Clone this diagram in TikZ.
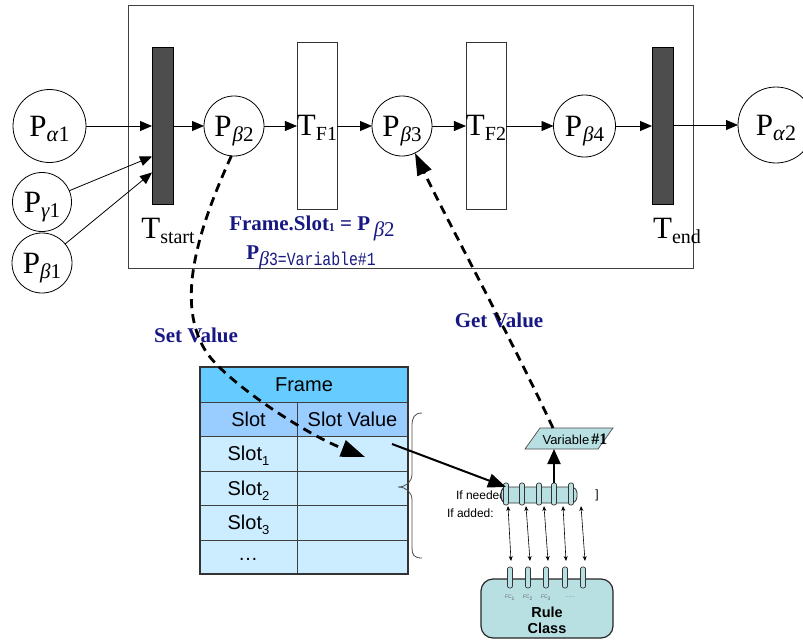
\documentclass[tikz,border=0pt]{standalone}
\usepackage{graphicx}
\usepackage{fontspec}
\setmainfont{Liberation Serif}
\setsansfont{Liberation Sans}
\setmonofont{Liberation Mono}
\usetikzlibrary{arrows.meta,calc}
\definecolor{navyt}{RGB}{24,24,130}
\definecolor{bardark}{RGB}{77,77,77}
\definecolor{framehead}{RGB}{102,204,255}
\definecolor{slothead}{RGB}{153,204,255}
\definecolor{slotrow}{RGB}{204,236,255}
\definecolor{tealc}{RGB}{184,224,226}
\newcommand\psub[2][5pt]{\raisebox{-#1}[0pt][0pt]{#2}}
\begin{document}
\begin{tikzpicture}[x=1pt,y=-1pt,
 every node/.style={inner sep=0pt,outer sep=0pt},
 place/.style={circle,draw=black,line width=0.8pt,fill=white,font=\fontsize{31}{31}\selectfont},
 tbar/.style={draw=black,line width=0.6pt,fill=bardark,minimum width=21pt,minimum height=157pt},
 tbox/.style={draw=black!80,line width=0.8pt,fill=white,minimum width=40pt,minimum height=167pt,font=\fontsize{31}{31}\selectfont},
 tlabel/.style={font=\fontsize{31}{31}\selectfont},
 arr/.style={line width=0.8pt,-{Triangle[length=12pt,width=10pt]}},
 thickarr/.style={line width=2pt,-{Triangle[length=18pt,width=14pt]}},
 dasharr/.style={line width=2.8pt,dash pattern=on 9pt off 6pt,-{Triangle[length=24pt,width=17pt]}},
 dasharrb/.style={line width=2.8pt,dash pattern=on 9pt off 6pt,-{Triangle[length=22pt,width=15pt]}},
 note/.style={text=navyt,font=\bfseries\fontsize{21}{21}\selectfont},
 cell/.style={draw=black!75,line width=0.8pt,font=\sffamily\fontsize{20}{20}\selectfont},
 tpin/.style={draw=black!80,line width=0.7pt,fill=tealc,rounded corners=2pt,minimum width=5pt,minimum height=22pt},
 darr/.style={line width=0.6pt,{Stealth[length=5pt,width=4pt]}-{Stealth[length=5pt,width=4pt]}},
 small/.style={font=\sffamily\fontsize{12}{12}\selectfont}
]
\fill[white] (0,0) rectangle (803,640);
\useasboundingbox (0,0) rectangle (803,640);
\clip (0,0) rectangle (803,640);

% outer box
\draw[draw=black!75,line width=0.8pt] (128,5) rectangle (693,268);

% places and transitions
\node[place,minimum size=73pt] (pa1) at (49.5,126) {P\psub{\fontsize{22}{22}\selectfont\textit{α}1}};
\node[place,minimum size=59pt] (pg1) at (42,202) {P\psub{\fontsize{21}{21}\selectfont\textit{γ}1}};
\node[place,minimum size=60pt] (pb1) at (42,263) {P\psub{\fontsize{21}{21}\selectfont\textit{β}1}};
\node[tbar] (ts) at (162.5,125.5) {};
\node[place,minimum size=60pt] (pb2) at (234,126) {P\kern1pt\psub{\fontsize{21}{21}\selectfont\textit{β}2}};
\node[tbox] (tf1) at (317,125.5) {T\psub{\fontsize{20}{20}\selectfont F1}};
\node[place,minimum size=60pt] (pb3) at (402,126) {P\kern1pt\psub{\fontsize{21}{21}\selectfont\textit{β}3}};
\node[tbox] (tf2) at (486,125.5) {T\psub{\fontsize{20}{20}\selectfont F2}};
\node[place,minimum size=62pt] (pb4) at (584.5,126) {P\kern1pt\psub{\fontsize{21}{21}\selectfont\textit{β}4}};
\node[tbar] (te) at (662.5,125.5) {};
\node[place,minimum size=76pt] (pa2) at (776,125) {P\psub{\fontsize{22}{22}\selectfont\textit{α}2}};

\node[tlabel] (tsl) at (168,228.5) {T\psub{\fontsize{20}{20}\selectfont start}};
\node[tlabel] (tel) at (677,228.5) {T\psub{\fontsize{20}{20}\selectfont end}};

\draw[arr] (pa1) -- (ts.west |- pa1);
\draw[arr] (pg1) -- ([yshift=-31pt]ts.west);
\draw[arr] (pb1) -- ([yshift=-47pt]ts.west);
\draw[arr] (ts.east |- pb2.west) -- (pb2.west);
\draw[arr] (pb2.east) -- (tf1.west |- pb2.east);
\draw[arr] (tf1.east |- pb3.west) -- (pb3.west);
\draw[arr] (pb3.east) -- (tf2.west |- pb3.east);
\draw[arr] (tf2.east |- pb4.west) -- (pb4.west);
\draw[arr] (pb4.east) -- (te.west |- pb4.east);
\draw[arr] (te.east |- pa2.west) -- (pa2.west);

% notes
\node[note,anchor=base] (n1) at (312,230) {Frame.Slot\raisebox{-1pt}{\fontsize{12}{12}\selectfont 1} = P\,\psub[6pt]{\mdseries\fontsize{21}{21}\selectfont\textit{β}2}};
\node[note,anchor=base] (n2) at (311,259) {P\psub[6pt]{\mdseries\fontsize{20}{20}\selectfont\textit{β}\scalebox{0.8}[1]{\ttfamily\fontsize{18.5}{18.5}\selectfont 3=Variable\#1}}};
\node[note] (sv) at (196,335) {Set Value};
\node[note] (gv) at (499,320) {Get Value};

% frame table
\node[cell,fill=framehead,minimum width=208pt,minimum height=35pt] (fr) at (304,384.5) {Frame};
\node[cell,fill=slothead,minimum width=97pt,minimum height=34pt] (sh) at (248.5,419) {Slot};
\node[cell,fill=slothead,minimum width=111pt,minimum height=34pt] (svh) at (352.5,419) {Slot Value};
\node[cell,fill=slotrow,minimum width=97pt,minimum height=35pt] (s1) at (248.5,453.5) {Slot\psub{\fontsize{13}{13}\selectfont 1}};
\node[cell,fill=slotrow,minimum width=111pt,minimum height=35pt] (v1) at (352.5,453.5) {};
\node[cell,fill=slotrow,minimum width=97pt,minimum height=34pt] (s2) at (248.5,488) {Slot\psub{\fontsize{13}{13}\selectfont 2}};
\node[cell,fill=slotrow,minimum width=111pt,minimum height=34pt] (v2) at (352.5,488) {};
\node[cell,fill=slotrow,minimum width=97pt,minimum height=35pt] (s3) at (248.5,522.5) {Slot\psub{\fontsize{13}{13}\selectfont 3}};
\node[cell,fill=slotrow,minimum width=111pt,minimum height=35pt] (v3) at (352.5,522.5) {};
\node[cell,fill=slotrow,minimum width=97pt,minimum height=34pt] (s4) at (248.5,557) {};
\node[cell,fill=slotrow,minimum width=111pt,minimum height=34pt] (v4) at (352.5,557) {};
\node[font=\sffamily\fontsize{20}{20}\selectfont] (dots) at (248,559) {…};
\draw[line width=1.6pt,draw=black!80] (fr.north west) rectangle (v4.south east);

% brace
\draw[line width=0.8pt,draw=black!70] (422,413) .. controls (414,413) and (412,418) .. (412,426) -- (412,474) .. controls (412,482) and (406,487) .. (398,487) .. controls (406,487) and (412,492) .. (412,500) -- (412,548) .. controls (412,555) and (414,558) .. (422,558);

% facet tube
\node[small,anchor=west] (ifn) at (456,495) {If needed:};
\node[small] (brk) at (597,495) {]};
\node[small,anchor=west] (ifa) at (447,513) {If added:};
\node[draw=black!80,line width=0.8pt,fill=tealc,rounded corners=6pt,minimum width=76pt,minimum height=16pt] (tube) at (539,495) {};
\draw[draw=black!80,line width=0.7pt] (504.5,495) ellipse [x radius=3.5, y radius=7.5];
\foreach \i/\x in {1/506,2/522,3/539,4/554,5/571} \node[tpin] (tp\i) at (\x,494) {};

% rule class
\node[draw=black!85,line width=1.2pt,fill=tealc,rounded corners=12pt,minimum width=132pt,minimum height=59pt] (rc) at (547,608.5) {};
\foreach \i/\x in {1/510,2/528,3/546,4/565,5/583} \node[tpin,minimum height=21pt] (rp\i) at (\x,577.5) {};
\foreach \i/\x in {1/510,2/528,3/546} \node[font=\sffamily\fontsize{5}{5}\selectfont,text=black!60] (fc\i) at (\x,598) {FC\textsubscript{\i}};
\node[font=\sffamily\fontsize{5}{5}\selectfont,text=black!60] (fcd) at (570,597) {......};
\node[font=\sffamily\bfseries\fontsize{14.5}{16}\selectfont,align=center] (rct) at (547,620) {Rule\\Class};

% double arrows between tube and rule class
\foreach \i/\a/\c in {1/508/511,2/526/530,3/544/548,4/563/566,5/581/585} {
  \coordinate (ua\i) at (\a,506);
  \coordinate (da\i) at (\c,561);
  \draw[darr] (ua\i) -- (da\i);
}

% variable
\draw[fill=tealc,draw=black!70,line width=0.7pt] (525,449) -- (540,428) -- (613,428) -- (598,449) -- cycle;
\node[minimum width=88pt,minimum height=21pt] (var) at (569,438.5) {};
\node (vart) at (575,439) {\sffamily\fontsize{13}{13}\selectfont Variable\,\rmfamily\bfseries\fontsize{16}{16}\selectfont \#1};

\draw[line width=2pt,-{Triangle[length=15pt,width=13pt]}] (tp4.north) -- (tp4.north |- var.south);

% slot1 -> if needed
\coordinate (s1v) at (392,444);
\draw[thickarr] (s1v) -- ([yshift=-4pt]tp1.north);

% dashed arrows
\coordinate (svend) at (365,457);
\draw[dasharr] (pb2.265) .. controls (193,240) and (178,305) .. (205,350) .. controls (223,380) and (305,434) .. (svend);
\draw[dasharrb] ([xshift=-16pt]var.north) .. controls (512,340) and (447,220) .. (pb3);
\end{tikzpicture}
\end{document}
